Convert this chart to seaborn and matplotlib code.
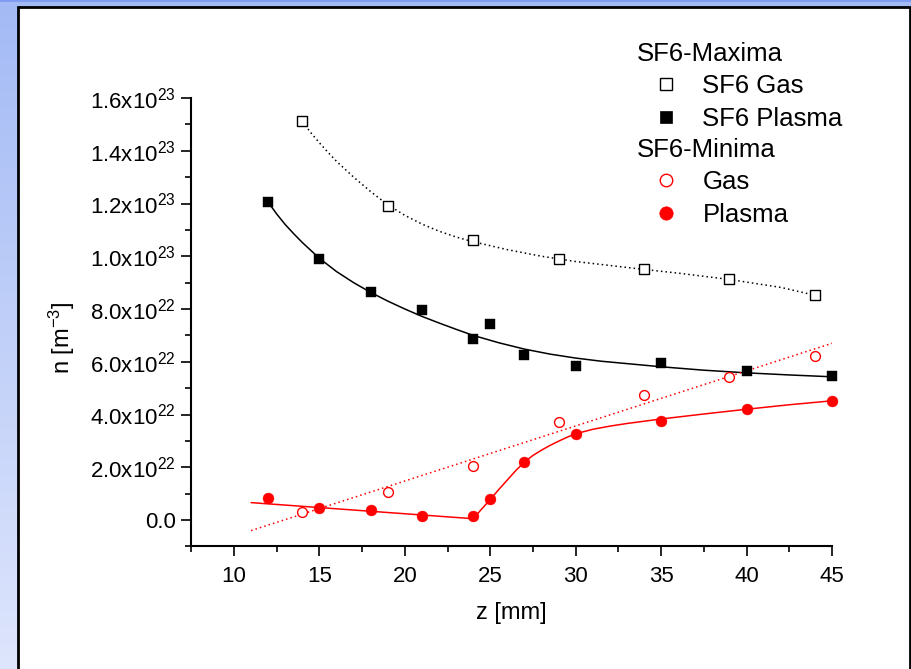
import numpy as np
import pandas as pd
import matplotlib
matplotlib.use("Agg")
import matplotlib.pyplot as plt
import seaborn as sns
from matplotlib.patches import Rectangle
from matplotlib.lines import Line2D
from matplotlib.ticker import MultipleLocator, FixedLocator, FixedFormatter

# ---------------- data (n in m^-3, z in mm) ----------------
z_max_gas = [14, 19, 24, 29, 34, 39, 44]
n_max_gas = [15.13e22, 11.9e22, 10.6e22, 9.88e22, 9.5e22, 9.13e22, 8.53e22]

z_max_plasma = [12, 15, 18, 21, 24, 25, 27, 30, 35, 40, 45]
n_max_plasma = [12.06e22, 9.91e22, 8.63e22, 7.95e22, 6.86e22, 7.43e22,
                6.24e22, 5.84e22, 5.97e22, 5.64e22, 5.46e22]

z_min_gas = [14, 19, 24, 29, 34, 39, 44]
n_min_gas = [0.31e22, 1.07e22, 2.06e22, 3.7e22, 4.74e22, 5.43e22, 6.23e22]

z_min_plasma = [12, 15, 18, 21, 24, 25, 27, 30, 35, 40, 45]
n_min_plasma = [0.82e22, 0.45e22, 0.38e22, 0.14e22, 0.17e22, 0.8e22,
                2.21e22, 3.27e22, 3.77e22, 4.22e22, 4.52e22]

# fit curves
fit_z_max_gas = [14, 14.5, 15, 15.5, 16, 17, 18, 19, 20, 21, 22, 23, 24, 26, 28, 30,
                 32, 34, 36, 39, 42, 44]
fit_n_max_gas = [15.1e22, 14.68e22, 14.3e22, 13.94e22, 13.6e22, 13.0e22, 12.45e22,
                 11.95e22, 11.55e22, 11.22e22, 10.95e22, 10.73e22, 10.55e22, 10.25e22,
                 10.0e22, 9.8e22, 9.65e22, 9.5e22, 9.36e22, 9.12e22, 8.82e22, 8.52e22]

fit_z_max_plasma = [12, 12.5, 13, 13.5, 14, 15, 16, 17, 18, 19, 20, 21, 22, 23, 24,
                    25.5, 27, 28.5, 30, 31.5, 33, 35, 37.5, 40, 42.5, 45]
fit_n_max_plasma = [12.05e22, 11.6e22, 11.2e22, 10.85e22, 10.52e22, 9.92e22, 9.42e22,
                    9.0e22, 8.63e22, 8.3e22, 8.0e22, 7.72e22, 7.47e22, 7.23e22, 7.0e22,
                    6.72e22, 6.48e22, 6.29e22, 6.14e22, 6.02e22, 5.93e22, 5.81e22,
                    5.68e22, 5.58e22, 5.5e22, 5.43e22]

fit_z_min_gas = [11, 45]
fit_n_min_gas = [-0.4e22, 6.7e22]

fit_z_min_plasma = [11, 24, 24.5, 25, 25.5, 26, 26.5, 27, 27.5, 28, 28.5, 29, 29.5, 30,
                    31, 32, 33, 35, 37.5, 40, 42.5, 45]
fit_n_min_plasma = [0.66e22, 0.05e22, 0.42e22, 0.78e22, 1.16e22, 1.52e22, 1.88e22,
                    2.2e22, 2.45e22, 2.65e22, 2.83e22, 2.99e22, 3.14e22, 3.27e22,
                    3.44e22, 3.56e22, 3.66e22, 3.83e22, 4.02e22, 4.2e22, 4.37e22, 4.52e22]

y_tick_values = [0, 2e22, 4e22, 6e22, 8e22, 1.0e23, 1.2e23, 1.4e23, 1.6e23]
y_tick_labels = ["0.0", "2.0x$10^{22}$", "4.0x$10^{22}$", "6.0x$10^{22}$",
                 "8.0x$10^{22}$", "1.0x$10^{23}$", "1.2x$10^{23}$",
                 "1.4x$10^{23}$", "1.6x$10^{23}$"]
x_tick_values = [10, 15, 20, 25, 30, 35, 40, 45]

group_titles = ["SF6-Maxima", "SF6-Minima"]
series_labels = ["SF6 Gas", "SF6 Plasma", "Gas", "Plasma"]

# ---------------- style ----------------
sns.set_theme(style="ticks")
plt.rcParams["font.family"] = ["Liberation Sans", "DejaVu Sans"]
plt.rcParams["mathtext.fontset"] = "custom"
plt.rcParams["mathtext.rm"] = "Liberation Sans"
plt.rcParams["mathtext.it"] = "Liberation Sans:italic"
plt.rcParams["mathtext.bf"] = "Liberation Sans:bold"
plt.rcParams["mathtext.default"] = "regular"
plt.rcParams["text.color"] = "black"
plt.rcParams["axes.labelcolor"] = "black"
plt.rcParams["xtick.color"] = "black"
plt.rcParams["ytick.color"] = "black"
plt.rcParams["legend.labelcolor"] = "black"

W, H = 911, 669
fig = plt.figure(figsize=(W / 100, H / 100), dpi=100)

# background: blue gradient frame + white panel with black border
bg = fig.add_axes([0, 0, 1, 1], zorder=-10)
grad = np.linspace(0, 1, 256).reshape(-1, 1)
c_top = np.array([0.64, 0.73, 0.96])
c_bot = np.array([0.87, 0.90, 0.99])
img = c_top[None, None, :] * (1 - grad[:, :, None]) + c_bot[None, None, :] * grad[:, :, None]
bg.imshow(img, aspect="auto", extent=[0, 1, 0, 1], origin="upper")
bg.add_patch(Rectangle((0, 1 - 2 / H), 1, 2 / H, transform=bg.transAxes,
                       facecolor="#7f9cf2", edgecolor="none"))
bg.add_patch(Rectangle((17.5 / W, -0.05), (909.5 - 17.5) / W, (H - 6.5) / H + 0.05,
                       transform=bg.transAxes, facecolor="white",
                       edgecolor="black", linewidth=2.0))
bg.set_xlim(0, 1)
bg.set_ylim(0, 1)
bg.axis("off")

# main axes
x_left, x_right = 191.3, 832.0
y_top, y_bottom = 98.0, 546.4
ax = fig.add_axes([x_left / W, 1 - y_bottom / H, (x_right - x_left) / W, (y_bottom - y_top) / H])
ax.set_facecolor("none")

lw_fit = 1.1
sns.lineplot(x=fit_z_max_gas, y=fit_n_max_gas, color="black", linestyle=(0, (1, 2)),
             linewidth=lw_fit, ax=ax, estimator=None, sort=False)
sns.lineplot(x=fit_z_max_plasma, y=fit_n_max_plasma, color="black", linestyle="-",
             linewidth=lw_fit, ax=ax, estimator=None, sort=False)
sns.lineplot(x=fit_z_min_gas, y=fit_n_min_gas, color="red", linestyle=(0, (1, 2)),
             linewidth=lw_fit, ax=ax, estimator=None, sort=False)
sns.lineplot(x=fit_z_min_plasma, y=fit_n_min_plasma, color="red", linestyle="-",
             linewidth=lw_fit, ax=ax, estimator=None, sort=False)

sns.scatterplot(x=z_max_gas, y=n_max_gas, marker="s", s=42, facecolor="white",
                edgecolor="black", linewidth=1.0, ax=ax, zorder=3, clip_on=False)
sns.scatterplot(x=z_max_plasma, y=n_max_plasma, marker="s", s=54, color="black",
                edgecolor="black", linewidth=0.3, ax=ax, zorder=3, clip_on=False)
sns.scatterplot(x=z_min_gas, y=n_min_gas, marker="o", s=50, facecolor="white",
                edgecolor="red", linewidth=1.0, ax=ax, zorder=3, clip_on=False)
sns.scatterplot(x=z_min_plasma, y=n_min_plasma, marker="o", s=62, color="red",
                edgecolor="red", linewidth=0.3, ax=ax, zorder=3, clip_on=False)

ax.set_xlim(7.5, 45)
ax.set_ylim(-1e22, 1.6e23)
ax.xaxis.set_major_locator(FixedLocator(x_tick_values))
ax.xaxis.set_minor_locator(MultipleLocator(2.5))
ax.yaxis.set_major_locator(FixedLocator(y_tick_values))
ax.yaxis.set_major_formatter(FixedFormatter(y_tick_labels))
ax.yaxis.set_minor_locator(MultipleLocator(1e22))
ax.set_xticklabels([str(v) for v in x_tick_values])

sns.despine(ax=ax)
for sp in ("left", "bottom"):
    ax.spines[sp].set_linewidth(1.5)
    ax.spines[sp].set_color("black")
ax.tick_params(which="major", direction="out", length=7.2, width=1.2, color="black",
               labelsize=16, labelcolor="black")
ax.tick_params(which="minor", direction="out", length=4.3, width=1.2, color="black")
ax.tick_params(axis="y", which="major", pad=4)
ax.tick_params(axis="x", which="major", pad=7)

ax.set_xlabel("z [mm]", fontsize=17, color="black", labelpad=11)
ax.set_ylabel("n [m$^{-3}$]", fontsize=17, color="black")
ax.yaxis.set_label_coords((77 - x_left) / (x_right - x_left), (y_bottom - 338) / (y_bottom - y_top))

# legends
fs_leg = 18.5
h_max = [Line2D([], [], ls="none", marker="s", ms=8.4, mfc="white", mec="black", mew=1.0),
         Line2D([], [], ls="none", marker="s", ms=8.4, mfc="black", mec="black", mew=0.5)]
h_min = [Line2D([], [], ls="none", marker="o", ms=9.0, mfc="white", mec="red", mew=1.0),
         Line2D([], [], ls="none", marker="o", ms=9.6, mfc="red", mec="red", mew=0.5)]
common = dict(loc="upper left", bbox_transform=fig.transFigure, frameon=False,
              borderpad=0, borderaxespad=0, handlelength=2.26, handletextpad=0.3,
              labelspacing=0.33, fontsize=fs_leg, title_fontsize=fs_leg, alignment="left",
              labelcolor="black")
leg1 = ax.legend(h_max, series_labels[:2], title=group_titles[0],
                 bbox_to_anchor=(636.7 / W, 1 - 42 / H), **common)
leg1.get_title().set_color("black")
ax.add_artist(leg1)
leg2 = ax.legend(h_min, series_labels[2:], title=group_titles[1],
                 bbox_to_anchor=(636.7 / W, 1 - 138 / H), **common)
leg2.get_title().set_color("black")

fig.savefig("out.png", dpi=100)
